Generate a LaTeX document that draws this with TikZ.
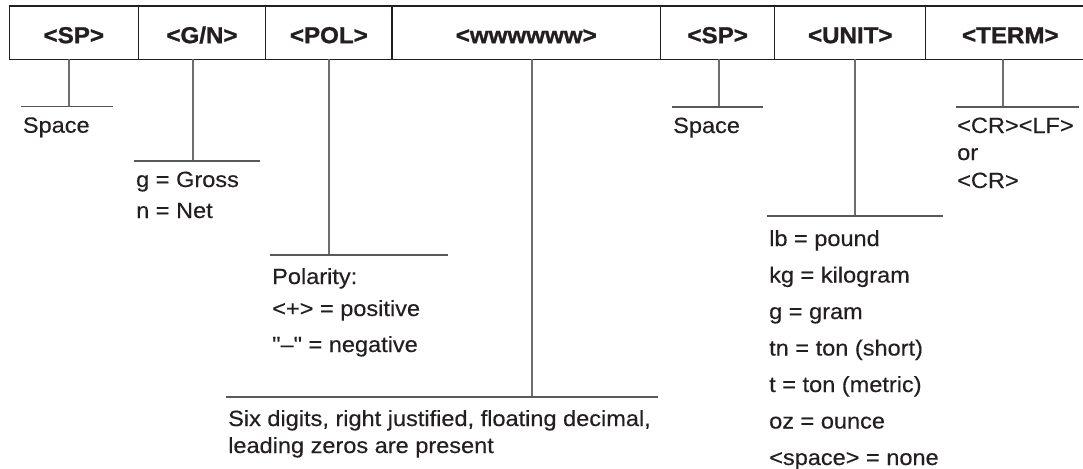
\documentclass[tikz,border=0pt]{standalone}
\usepackage{fontspec}
\newfontfamily\bodyfont{Liberation Sans}[FakeStretch=1.07, FakeBold=0.35]
\newfontfamily\headfont{Liberation Sans Bold}[FakeStretch=1.05, FakeBold=1.2]
\usetikzlibrary{positioning}
\definecolor{cink}{HTML}{231F20}
\definecolor{cline}{HTML}{6D6E71}
\definecolor{crule}{HTML}{58595B}
\tikzset{
  cell/.style={draw=cink, line width=1.3pt, minimum height=53.3pt, inner sep=0pt, outer sep=0pt,
    text height=21pt, text depth=0pt, text=cink, font=\headfont\fontsize{23}{26}\selectfont},
  lead/.style={draw=cline, line width=1.8pt},
  rule/.style={draw=crule, line width=1.5pt},
  note/.style={anchor=base west, inner sep=0pt, text=cink, font=\bodyfont\fontsize{22}{26}\selectfont},
}

\begin{document}
\begin{tikzpicture}[x=1pt, y=-1pt]
  \useasboundingbox (0,0) rectangle (1083,468);
  \node[cell, minimum width=129pt, anchor=north west] (sp1) at (9.3,6) {<SP>};
  \node[cell, minimum width=127.4pt, right=0pt of sp1] (gn) {<G/N>};
  \node[cell, minimum width=126.3pt, right=0pt of gn] (pol) {<POL>};
  \node[cell, minimum width=268.5pt, right=0pt of pol] (www) {<wwwwww>};
  \node[cell, minimum width=114.3pt, right=0pt of www] (sp2) {<SP>};
  \node[cell, minimum width=150.9pt, right=0pt of sp2] (unit) {<UNIT>};
  \node[cell, minimum width=169.3pt, right=0pt of unit] (term) {<TERM>};

  \coordinate (jsp1) at (69,106.7);
  \coordinate (jgn) at (193,161);
  \coordinate (jpol) at (328.7,255);
  \coordinate (jwww) at (532,397);
  \coordinate (jsp2) at (719,107);
  \coordinate (junit) at (855,216);
  \coordinate (jterm) at (1002.7,107);

  \draw[lead] (jsp1 |- sp1.south) -- (jsp1);
  \draw[lead] (jgn |- gn.south) -- (jgn);
  \draw[lead] (jpol |- pol.south) -- (jpol);
  \draw[lead] (jwww |- www.south) -- (jwww);
  \draw[lead] (jsp2 |- sp2.south) -- (jsp2);
  \draw[lead] (junit |- unit.south) -- (junit);
  \draw[lead] (jterm |- term.south) -- (jterm);

  \draw[rule] ([xshift=-48pt]jsp1) -- ([xshift=44pt]jsp1);
  \draw[rule] ([xshift=-59pt]jgn) -- ([xshift=67pt]jgn);
  \draw[rule] ([xshift=-58.7pt]jpol) -- ([xshift=119pt]jpol);
  \draw[rule] ([xshift=-306pt]jwww) -- ([xshift=126pt]jwww);
  \draw[rule] ([xshift=-47pt]jsp2) -- ([xshift=44pt]jsp2);
  \draw[rule] ([xshift=-88pt]junit) -- ([xshift=88pt]junit);
  \draw[rule] ([xshift=-46.7pt]jterm) -- ([xshift=76.3pt]jterm);

  \node[note] (space1) at (22.7,132.7) {Space};
  \node[note] (gross) at (136,187) {g = Gross};
  \node[note] (net) at (136,218) {n = Net};
  \node[note] (polarity) at (272,284) {Polarity:};
  \node[note] (pos) at (272,316) {<+> = positive};
  \node[note] (neg) at (272,352) {"–" = negative};
  \node[note] (digits1) at (228,426) {Six digits, right justified, floating decimal,};
  \node[note] (digits2) at (228,453) {leading zeros are present};
  \node[note] (space2) at (673,133) {Space};
  \foreach \t [count=\i from 0] in {lb = pound, kg = kilogram, g = gram, tn = ton (short), t = ton (metric), oz = ounce, <space> = none}
    \node[note] (unit\i) at (769,{246+36.5*\i}) {\t};
  \node[note] (crlf) at (957,133) {<CR><LF>};
  \node[note] (or) at (957,160) {or};
  \node[note] (cr) at (957,188) {<CR>};
\end{tikzpicture}
\end{document}
